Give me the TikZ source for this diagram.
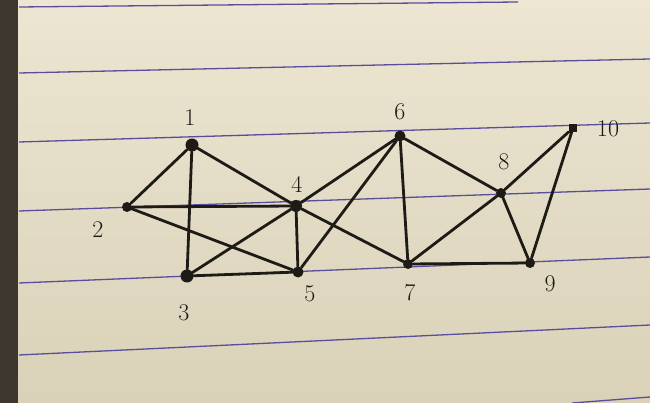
\documentclass[tikz,border=0pt]{standalone}
\definecolor{ink}{HTML}{1E1B17}
\definecolor{paperA}{HTML}{ECE6D2}
\definecolor{paperB}{HTML}{DAD1B8}
\definecolor{stripc}{HTML}{3E372F}
\definecolor{rule}{HTML}{5A4E9C}
\begin{document}
\begin{tikzpicture}[x=1pt,y=-1pt,
  vtx/.style={circle,fill=ink,inner sep=0pt,minimum size=10pt},
  bigvtx/.style={vtx,minimum size=13pt},
  lbl/.style={font=\fontsize{24}{24}\selectfont,text=ink},
  edge/.style={draw=ink,line width=2.8pt,line cap=round},
  ruling/.style={draw=rule,line width=1.3pt}]
\useasboundingbox (0,0) rectangle (650,403);
% paper
\shade[top color=paperA,bottom color=paperB] (0,0) rectangle (650,403);
\fill[stripc] (0,0) rectangle (18,403);
% ruled lines
\draw[ruling] (19,7) -- (518,2);
\draw[ruling] (19,73) -- (650,59);
\draw[ruling] (19,142) -- (650,123);
\draw[ruling] (19,211) -- (650,189);
\draw[ruling] (19,283) -- (650,257);
\draw[ruling] (19,355) -- (650,325);
\draw[ruling] (572,403) -- (650,397);
% vertices
\node[bigvtx] (n1) at (192,145) {};
\node[vtx] (n2) at (127,207) {};
\node[bigvtx] (n3) at (187,276) {};
\node[vtx,minimum size=12pt] (n4) at (296,206) {};
\node[vtx,minimum size=11pt] (n5) at (298,272) {};
\node[vtx,minimum size=11pt] (n6) at (400,136) {};
\node[vtx] (n7) at (408,264) {};
\node[vtx] (n8) at (501,193) {};
\node[vtx] (n9) at (530,263) {};
\node[vtx,rectangle,minimum size=8pt] (n10) at (573,128) {};
% edges
\path[edge] (n1) -- (n2);
\path[edge] (n1) -- (n3);
\path[edge] (n1) -- (n4);
\path[edge] (n2) -- (n4);
\path[edge] (n2) -- (n5);
\path[edge] (n3) -- (n5);
\path[edge] (n3) -- (n4);
\path[edge] (n4) -- (n5);
\path[edge] (n4) -- (n6);
\path[edge] (n5) -- (n6);
\path[edge] (n4) -- (n7);
\path[edge] (n6) -- (n7);
\path[edge] (n6) -- (n8);
\path[edge] (n7) -- (n8);
\path[edge] (n7) -- (n9);
\path[edge] (n8) -- (n9);
\path[edge] (n8) -- (n10);
\path[edge] (n9) -- (n10);
% labels
\node[lbl] (l1) at (190,118) {1};
\node[lbl] (l2) at (98,230) {2};
\node[lbl] (l3) at (184,313) {3};
\node[lbl] (l4) at (297,184) {4};
\node[lbl] (l5) at (310,294) {5};
\node[lbl] (l6) at (400,112) {6};
\node[lbl] (l7) at (410,293) {7};
\node[lbl] (l8) at (504,162) {8};
\node[lbl] (l9) at (550,284) {9};
\node[lbl] (l10) at (608,129) {10};
\end{tikzpicture}
\end{document}
